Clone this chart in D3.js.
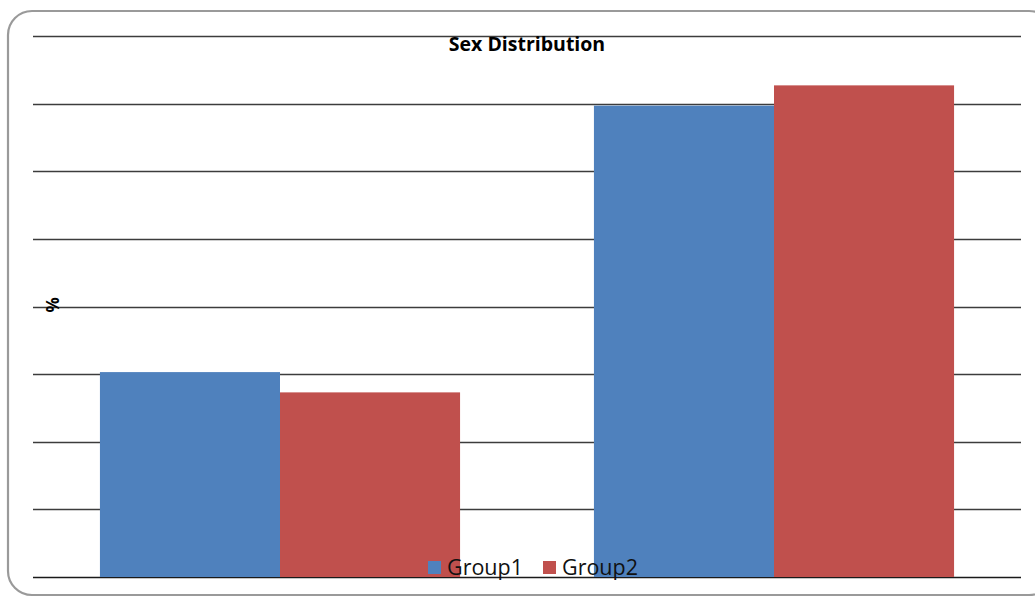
<!DOCTYPE html>
<html>
<head>
<meta charset="utf-8">
<script src="https://cdn.jsdelivr.net/npm/d3@7"></script>
<style>
  html, body { margin: 0; padding: 0; background: #fff; }
  svg { display: block; }
</style>
</head>
<body>
<svg id="chart" width="1035" height="598"></svg>
<script>
// Sex distribution (%) by group
const categories = ["Male", "Female"];
const seriesNames = ["Group1", "Group2"];
const group1Values = [30.3, 69.7];
const group2Values = [27.3, 72.7];
const tickValues = [0, 10, 20, 30, 40, 50, 60, 70, 80];
const colors = ["#4F81BD", "#C0504D"];

const svg = d3.select("#chart");
const plot = { left: 33, right: 1021, top: 36, bottom: 577 };

// Chart frame with rounded corners
svg.append("rect")
  .attr("x", 8).attr("y", 11)
  .attr("width", 1045).attr("height", 584)
  .attr("rx", 24).attr("ry", 24)
  .attr("fill", "#fff")
  .attr("stroke", "#9a9a9a")
  .attr("stroke-width", 2.2);

const y = d3.scaleLinear().domain([0, 80]).range([plot.bottom, plot.top]);
const x0 = d3.scaleBand().domain(categories).range([plot.left, plot.right])
  .paddingInner(0.271).paddingOuter(0.1355);
const x1 = d3.scaleBand().domain(seriesNames).range([0, x0.bandwidth()]);

// Horizontal gridlines
svg.append("g")
  .selectAll("line")
  .data(tickValues)
  .join("line")
  .attr("x1", plot.left).attr("x2", plot.right)
  .attr("y1", d => Math.round(y(d)) + 0.5)
  .attr("y2", d => Math.round(y(d)) + 0.5)
  .attr("stroke", d => d === 0 ? "#1a1a1a" : "#3c3c3c")
  .attr("stroke-width", 1.3);

// Bars
const rows = categories.map((c, i) => ({
  category: c,
  values: [
    { series: seriesNames[0], value: group1Values[i] },
    { series: seriesNames[1], value: group2Values[i] }
  ]
}));

const groups = svg.append("g")
  .selectAll("g")
  .data(rows)
  .join("g")
  .attr("transform", d => `translate(${x0(d.category)},0)`);

groups.selectAll("rect")
  .data(d => d.values)
  .join("rect")
  .attr("x", d => x1(d.series))
  .attr("y", d => y(d.value))
  .attr("width", x1.bandwidth())
  .attr("height", d => y(0) - y(d.value))
  .attr("fill", (d, i) => colors[i]);

// Title
svg.append("text")
  .attr("x", 527).attr("y", 51)
  .attr("text-anchor", "middle")
  .attr("font-family", "'Open Sans', 'DejaVu Sans', sans-serif")
  .attr("font-weight", "bold")
  .attr("font-size", 19.5)
  .attr("fill", "#000")
  .text("Sex Distribution");

// Y axis label
svg.append("text")
  .attr("transform", "translate(46,305) rotate(90)")
  .attr("text-anchor", "middle")
  .attr("font-family", "'Open Sans', 'DejaVu Sans', sans-serif")
  .attr("font-weight", "bold")
  .attr("font-size", 17)
  .attr("fill", "#000")
  .text("%");

// Legend
const legend = svg.append("g").attr("transform", "translate(428,567)");
const legendItems = [
  { name: seriesNames[0], color: colors[0], dx: 0 },
  { name: seriesNames[1], color: colors[1], dx: 115 }
];
const li = legend.selectAll("g").data(legendItems).join("g")
  .attr("transform", d => `translate(${d.dx},0)`);
li.append("rect")
  .attr("x", 0).attr("y", -6)
  .attr("width", 13).attr("height", 13)
  .attr("fill", d => d.color);
li.append("text")
  .attr("x", 19).attr("y", 7.5)
  .attr("font-family", "'Open Sans', 'DejaVu Sans', sans-serif")
  .attr("font-size", 21.5)
  .attr("fill", "#111")
  .text(d => d.name);
</script>
</body>
</html>
